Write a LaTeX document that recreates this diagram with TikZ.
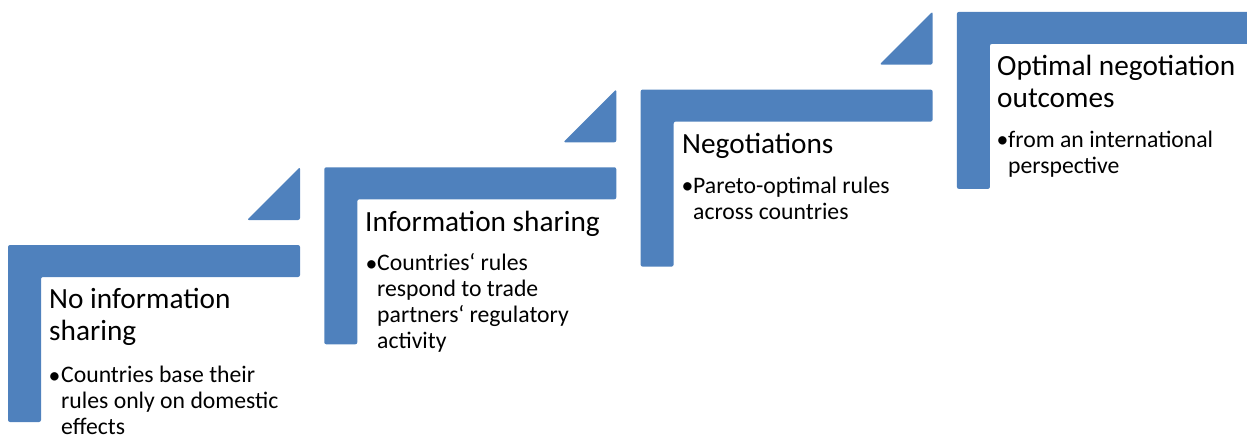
\documentclass[tikz,border=0pt]{standalone}
\usepackage{fontspec}
\setmainfont{Carlito}
\definecolor{stepblue}{HTML}{4F81BD}
\tikzset{
  steptitle/.style={anchor=base west, inner sep=0pt, align=left, text=black,
    font=\fontsize{29.3}{32.5}\selectfont},
  stepitem/.style={anchor=base west, inner sep=0pt, align=left, text=black,
    font=\fontsize{23.7}{25.7}\selectfont},
  stepshape/.style={fill=stepblue, rounded corners=2pt},
}
\begin{document}
\begin{tikzpicture}[x=1pt,y=-1pt]
\useasboundingbox (0,0) rectangle (1247,436);
\begin{scope}
  \clip (0,12) rectangle (1247,436);
  \foreach \k in {0,1,2,3} {
    \pgfmathsetmacro\xo{8+316.3*\k}
    \pgfmathsetmacro\yo{245-77.7*\k}
    \fill[stepshape] (\xo,\yo) -- (\xo+292,\yo) -- (\xo+292,\yo+32)
      -- (\xo+33,\yo+32) -- (\xo+33,\yo+177) -- (\xo,\yo+177) -- cycle;
  }
  \foreach \k in {0,1,2} {
    \pgfmathsetmacro\xo{8+316.3*\k}
    \pgfmathsetmacro\yo{245-77.7*\k}
    \fill[stepshape] (\xo+239,\yo-25) -- (\xo+292,\yo-25) -- (\xo+292,\yo-78) -- cycle;
  }
\end{scope}
% anchors are at the baseline of the LAST line of each node
% step 1
\node[steptitle] (t1) at (49,340.5) {No information\\sharing};
\node[stepitem] (d1) at (48.5,383) {•};
\node[stepitem] (b1) at (61,434) {Countries base their\\rules only on domestic\\effects};
% step 2
\node[steptitle] (t2) at (365,231) {Information sharing};
\node[stepitem] (d2) at (365.5,271) {•};
\node[stepitem] (b2) at (377,348) {Countries‘ rules\\respond to trade\\partners‘ regulatory\\activity};
% step 3
\node[steptitle] (t3) at (682,153) {Negotiations};
\node[stepitem] (d3) at (681.5,193) {•};
\node[stepitem] (b3) at (693,219) {Pareto-optimal rules\\across countries};
% step 4
\node[steptitle] (t4) at (997,107.5) {Optimal negotiation\\outcomes};
\node[stepitem] (d4) at (996.5,147) {•};
\node[stepitem] (b4) at (1008,173) {from an international\\perspective};
\end{tikzpicture}
\end{document}
